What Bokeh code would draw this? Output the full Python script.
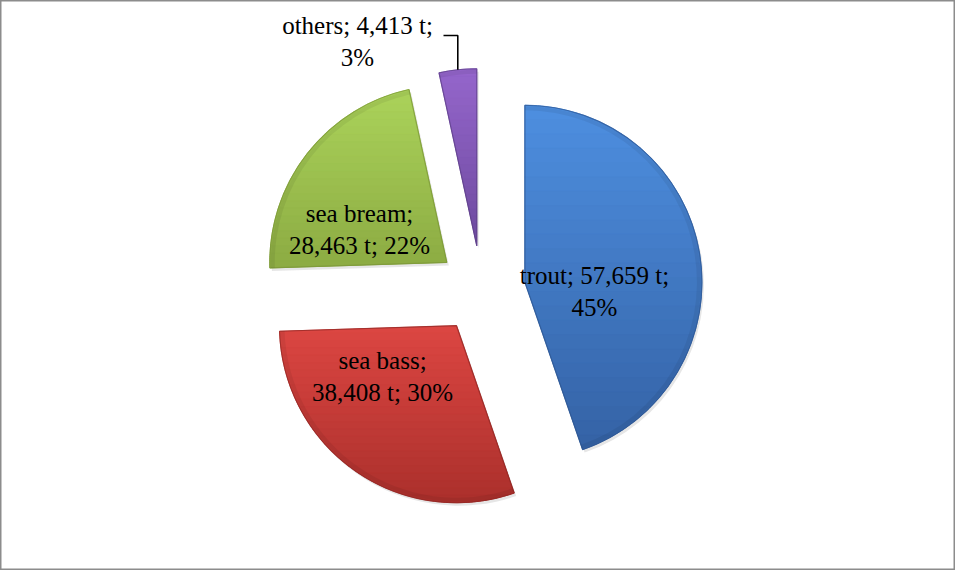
import numpy as np
from bokeh.plotting import figure
from bokeh.models import Range1d
from bokeh.embed import file_html
from bokeh.resources import INLINE
from bokeh.core.properties import value

# ---- data ----
categories = ["trout", "sea bass", "sea bream", "others"]
tonnes = [57659, 38408, 28463, 4413]
tonnes_labels = ["57,659 t", "38,408 t", "28,463 t", "4,413 t"]
percent_labels = ["45%", "30%", "22%", "3%"]

# ---- styles / layout ----
top_colors = ["#4E8FE0", "#DC4642", "#ABD35B", "#9566CC"]
bottom_colors = ["#3462A5", "#AB302C", "#8CAB42", "#6D4A9E"]
edge_colors = ["#2E5690", "#8E2724", "#7A9638", "#5C3E86"]
# where Excel wrapped each label: 0 -> "name;\nvalue; pct", 1 -> "name; value;\npct"
wrap_style = [1, 0, 0, 1]
# label anchor positions in image pixels (layout)
label_pos = [(594, 291), (382, 376), (359, 229), (357, 41)]

W, H = 955, 570
CX, CY = 481, 289  # pie centre in image px
R = 177
EXPLODE = 44

p = figure(width=W, height=H, output_backend="svg", toolbar_location=None,
           x_range=Range1d(0, W), y_range=Range1d(-H, 0),
           min_border=0)
p.axis.visible = False
p.grid.visible = False
p.outline_line_color = "#8C8C8C"
p.outline_line_width = 2
p.background_fill_color = "white"
p.border_fill_color = "white"


def hex2rgb(h):
    h = h.lstrip("#")
    return np.array([int(h[i:i + 2], 16) for i in (0, 2, 4)], dtype=float)


def rgb2hex(c):
    return "#%02x%02x%02x" % tuple(int(round(v)) for v in c)


def clip_half(xs, ys, yval, keep_above):
    out_x, out_y = [], []
    n = len(xs)
    for i in range(n):
        x1, y1 = xs[i], ys[i]
        x2, y2 = xs[(i + 1) % n], ys[(i + 1) % n]
        in1 = (y1 >= yval) if keep_above else (y1 <= yval)
        in2 = (y2 >= yval) if keep_above else (y2 <= yval)
        if in1:
            out_x.append(x1); out_y.append(y1)
        if in1 != in2:
            t = (yval - y1) / (y2 - y1)
            out_x.append(x1 + t * (x2 - x1)); out_y.append(yval)
    return out_x, out_y


total = float(sum(tonnes))
cum = 0.0
for i, t in enumerate(tonnes):
    th1 = cum / total * 360.0
    th2 = (cum + t) / total * 360.0
    cum += t
    mid = np.radians((th1 + th2) / 2)
    ax = CX + EXPLODE * np.sin(mid)
    ay = -CY + EXPLODE * np.cos(mid)
    start = np.radians(90 - th2)
    end = np.radians(90 - th1)
    # soft shadow
    p.wedge(x=[ax + 2], y=[ay - 3], radius=R, start_angle=start, end_angle=end,
            fill_color="#777777", fill_alpha=0.18, line_alpha=0)
    # base slice
    p.wedge(x=[ax], y=[ay], radius=R, start_angle=start, end_angle=end,
            fill_color=bottom_colors[i], line_alpha=0)
    # vertical gradient bands over the slice
    ts = np.linspace(start, end, 120)
    px = [ax] + list(ax + R * np.cos(ts))
    py = [ay] + list(ay + R * np.sin(ts))
    ymin, ymax = min(py), max(py)
    nb = 24
    edges = np.linspace(ymax, ymin, nb + 1)
    ctop, cbot = hex2rgb(top_colors[i]), hex2rgb(bottom_colors[i])
    bx, by, bc = [], [], []
    for b in range(nb):
        hi, lo = edges[b], edges[b + 1]
        qx, qy = clip_half(px, py, hi, keep_above=False)
        if len(qx) < 3:
            continue
        qx, qy = clip_half(qx, qy, lo, keep_above=True)
        if len(qx) < 3:
            continue
        f = (b + 0.5) / nb
        col = rgb2hex(ctop * (1 - f) + cbot * f)
        bx.append(qx); by.append(qy); bc.append(col)
    p.patches(xs=bx, ys=by, fill_color=bc, line_color=bc, line_width=1)
    # bevel rim
    p.wedge(x=[ax], y=[ay], radius=R, start_angle=start, end_angle=end,
            fill_alpha=0, line_color=edge_colors[i], line_width=1.2, line_alpha=0.7)
    p.annular_wedge(x=[ax], y=[ay], inner_radius=R - 5, outer_radius=R - 1,
                    start_angle=start, end_angle=end,
                    fill_color="black", fill_alpha=0.06, line_alpha=0)

# labels
texts = []
for i, c in enumerate(categories):
    if wrap_style[i] == 1:
        texts.append(f"{c}; {tonnes_labels[i]};\n{percent_labels[i]}")
    else:
        texts.append(f"{c};\n{tonnes_labels[i]}; {percent_labels[i]}")

p.text(x=[lp[0] for lp in label_pos], y=[-lp[1] for lp in label_pos], text=texts,
       text_font=value("Liberation Serif"), text_font_size="25px",
       text_color="black", text_align="center", text_baseline="middle",
       text_line_height=1.2)

# leader line for the small "others" slice
th1 = (total - tonnes[3]) / total * 360.0
mid = np.radians((th1 + 360.0) / 2)
ox = CX + (EXPLODE + R) * np.sin(mid)
oy = -CY + (EXPLODE + R) * np.cos(mid)
p.line(x=[443, ox, ox], y=[-35, -35, oy], line_color="black", line_width=1.6)

open("out.html", "w").write(file_html(p, INLINE))
